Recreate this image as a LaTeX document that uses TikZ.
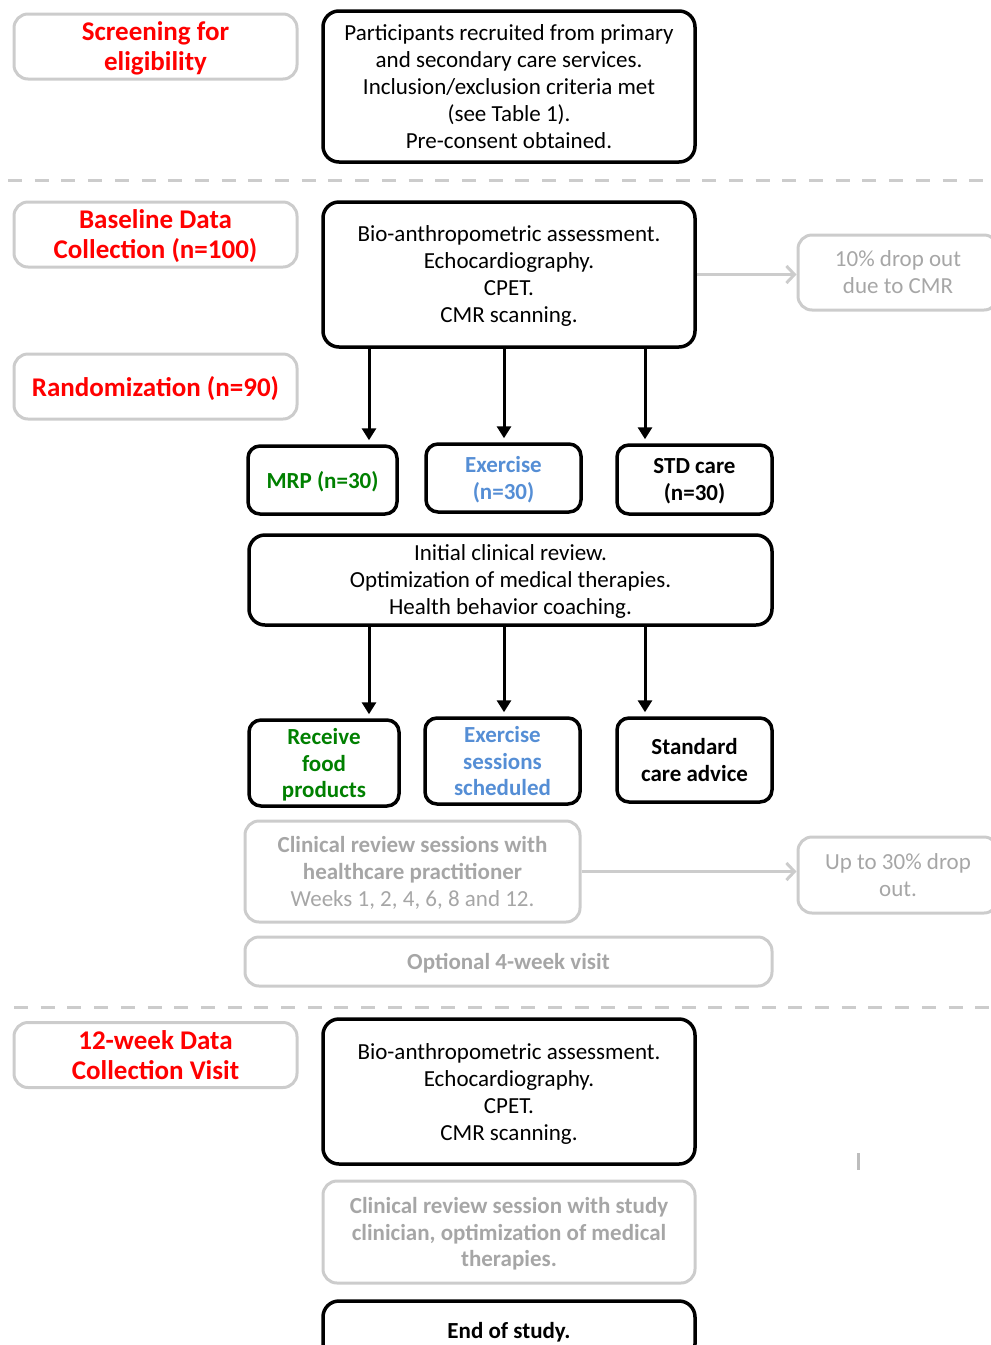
\documentclass[tikz,border=0pt]{standalone}
\usepackage{fontspec}
\setmainfont{Carlito}
\usetikzlibrary{arrows.meta}

\definecolor{dropgray}{RGB}{166,166,166}
\definecolor{linegray}{RGB}{204,204,204}
\definecolor{mrpgreen}{RGB}{0,128,0}
\definecolor{exblue}{RGB}{85,142,213}
\definecolor{stagered}{RGB}{255,0,0}

\begin{document}
\begin{tikzpicture}[x=1pt,y=-1pt,
    txt/.style={font=\fontsize{23}{27}\selectfont},
    txtbold/.style={font=\fontsize{23}{26.5}\selectfont\bfseries},
    blackbox/.style={draw=black, line width=3.5pt, rounded corners=16pt, align=center, inner sep=0pt, text depth=0pt, txt},
    greybox/.style={draw=linegray, line width=3pt, rounded corners=14pt, align=center, inner sep=0pt, text depth=0pt, text=dropgray, txt},
    stagebox/.style={greybox, text=stagered, minimum width=283pt, minimum height=65pt,
        font=\fontsize{27}{30}\selectfont\bfseries},
    armbox/.style={blackbox, rounded corners=12pt, txtbold},
    flow/.style={-{Triangle[length=12pt,width=14pt]}, line width=3pt, shorten >=4pt},
    dropflow/.style={-{Straight Barb[length=8pt,width=17pt]}, linegray, line width=3pt}]
    \useasboundingbox (0,0) rectangle (991,1345);
    \clip (0,0) rectangle (991,1345);

    % stage labels
    \node[stagebox] (screen) at (155.5,46.5) {Screening for\\eligibility};
    \node[stagebox] (baseline) at (155.5,234.5) {Baseline Data\\Collection (n=100)};
    \node[stagebox] (random) at (155.5,386.5) {Randomization (n=90)};
    \node[stagebox] (week12) at (155.5,1055) {12-week Data\\Collection Visit};

    % separators
    \draw[linegray, line width=3pt, dash pattern=on 14pt off 12.7pt] (8,180) -- (991,180);
    \draw[linegray, line width=3pt, dash pattern=on 14pt off 12.7pt] (14,1007) -- (991,1007);

    % screening and baseline
    \node[blackbox, minimum width=372pt, minimum height=151pt] (recruit) at (509,86.5)
        {Participants recruited from primary\\and secondary care services.\\Inclusion/exclusion criteria met\\(see Table 1).\\Pre-consent obtained.};
    \node[blackbox, minimum width=372pt, minimum height=145pt] (bio) at (509,274.5)
        {Bio-anthropometric assessment.\\Echocardiography.\\CPET.\\CMR scanning.};
    \node[greybox, minimum width=200pt, minimum height=75pt] (dropa) at (898,272.5)
        {10\% drop out\\due to CMR};

    % arms
    \node[armbox, text=mrpgreen, minimum width=149pt, minimum height=68pt] (mrp) at (322.5,480) {MRP (n=30)};
    \node[armbox, text=exblue, minimum width=155pt, minimum height=68pt] (exer) at (503.5,478) {Exercise\\(n=30)};
    \node[armbox, minimum width=155pt, minimum height=69pt] (std) at (694.5,479.5) {STD care\\(n=30)};

    \node[blackbox, minimum width=523pt, minimum height=90pt] (review) at (510.5,580)
        {Initial clinical review.\\Optimization of medical therapies.\\Health behavior coaching.};

    \node[armbox, text=mrpgreen, minimum width=150pt, minimum height=86pt] (food) at (324,763) {Receive\\food\\products};
    \node[armbox, text=exblue, minimum width=155pt, minimum height=86pt] (sessions) at (502.5,761) {Exercise\\sessions\\scheduled};
    \node[armbox, minimum width=155pt, minimum height=84pt] (advice) at (694.5,760) {Standard\\care advice};

    % follow up
    \node[greybox, minimum width=335pt, minimum height=101pt] (clinic) at (412.5,871.5)
        {\textbf{Clinical review sessions with}\\\textbf{healthcare practitioner}\\Weeks 1, 2, 4, 6, 8 and 12.};
    \node[greybox, minimum width=200pt, minimum height=76pt] (dropb) at (898,875)
        {Up to 30\% drop\\out.};
    \node[greybox, minimum width=527pt, minimum height=49pt, txtbold] (optional) at (508.5,961.5)
        {Optional 4-week visit};

    % 12 weeks
    \node[blackbox, minimum width=372pt, minimum height=145pt] (bioend) at (509,1091.5)
        {Bio-anthropometric assessment.\\Echocardiography.\\CPET.\\CMR scanning.};
    \node[greybox, minimum width=372pt, minimum height=102pt, txtbold] (final) at (509,1232)
        {Clinical review session with study\\clinician, optimization of medical\\therapies.};
    \node[blackbox, minimum width=372pt, minimum height=59pt, txtbold] (endstudy) at (509,1330.5)
        {End of study.};

    % arrows
    \coordinate (left) at (369,0);
    \coordinate (mid) at (504,0);
    \coordinate (right) at (645,0);
    \draw[flow] (bio.south -| left) -- (mrp.north -| left);
    \draw[flow] (bio.south -| mid) -- (exer.north -| mid);
    \draw[flow] (bio.south -| right) -- (std.north -| right);
    \draw[flow] (review.south -| left) -- (food.north -| left);
    \draw[flow] (review.south -| mid) -- (sessions.north -| mid);
    \draw[flow] (review.south -| right) -- (advice.north -| right);
    \draw[dropflow] (bio.east) -- (bio.east -| dropa.west);
    \draw[dropflow] (clinic.east) -- (clinic.east -| dropb.west);

    \draw[linegray!80!gray, line width=3pt] (858,1153) -- (858,1170);
\end{tikzpicture}
\end{document}
